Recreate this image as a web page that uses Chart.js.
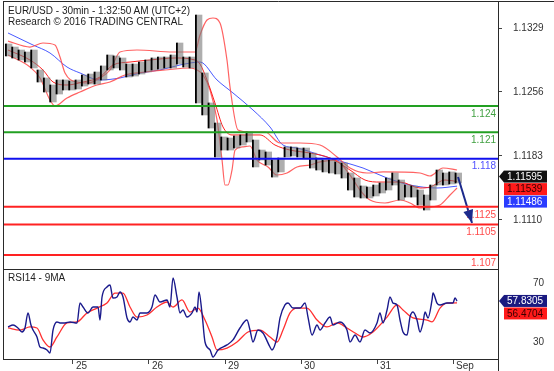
<!DOCTYPE html>
<html>
<head>
<meta charset="utf-8">
<script src="https://cdn.jsdelivr.net/npm/chart.js@4.4.1/dist/chart.umd.min.js"></script>
<style>
  body { margin: 0; background: #fff; overflow: hidden; }
  #wrap { position: relative; width: 554px; height: 371px; overflow: hidden; }
  canvas { position: absolute; left: 0; }
  .label { position: absolute; font: 10px "Liberation Sans", Arial, sans-serif; color: #222; white-space: nowrap; }
</style>
</head>
<body>
<div id="wrap">
  <canvas id="price-chart" width="554" height="270" style="top:0;width:554px;height:270px"></canvas>
  <canvas id="rsi-chart" width="554" height="110" style="top:269px;width:554px;height:110px"></canvas>
  <div class="label" style="left:8px;top:5px">EUR/USD - 30min - 1:32:50 AM (UTC+2)</div>
  <div class="label" style="left:8px;top:16px">Research © 2016 TRADING CENTRAL</div>
  <div class="label" style="left:8px;top:272px">RSI14 - 9MA</div>
</div>
<script>
// x values are in trading days (1 = Aug 25 ... 6 = Sep 1)
const dayTicks = [1, 2, 3, 4, 5, 6]
const dayLabels = ['25', '26', '29', '30', '31', 'Sep']

// 2-hour candles (high / low), first one at day 0.125
const candleStart = 0.125
const candleStep = 1 / 12
const candleHigh = [1.13108, 1.13073, 1.13039, 1.13016, 1.13039, 1.12811, 1.1272, 1.1264, 1.12697, 1.12697,
  1.12685, 1.12697, 1.12754, 1.12765, 1.12788, 1.12857, 1.12982, 1.12971, 1.12948, 1.12879,
  1.12879, 1.12902, 1.12925, 1.12948, 1.12959, 1.12959, 1.12982, 1.13119, 1.12959, 1.12959,
  1.13438, 1.12777, 1.12435, 1.12206, 1.12047, 1.12035, 1.12058, 1.1207, 1.12104, 1.12012,
  1.11898, 1.11876, 1.11784, 1.11807, 1.11933, 1.11933, 1.11921, 1.11921, 1.11864, 1.11807,
  1.11784, 1.11784, 1.11762, 1.1175, 1.11636, 1.11579, 1.11488, 1.11476, 1.11499, 1.11522,
  1.11579, 1.11636, 1.11556, 1.11499, 1.11488, 1.11442, 1.11385, 1.11499, 1.1167, 1.11636,
  1.11648, 1.11636]
const candleLow = [1.12971, 1.12948, 1.12925, 1.12902, 1.12834, 1.12674, 1.1256, 1.12446, 1.12537, 1.12583,
  1.12583, 1.12594, 1.12628, 1.12651, 1.12651, 1.12697, 1.12811, 1.12834, 1.12811, 1.12731,
  1.12742, 1.12765, 1.12788, 1.12811, 1.12822, 1.12834, 1.12834, 1.12879, 1.12845, 1.12834,
  1.12435, 1.12298, 1.12149, 1.11819, 1.11898, 1.11898, 1.11921, 1.11955, 1.1199, 1.11705,
  1.11784, 1.11727, 1.1159, 1.11648, 1.11819, 1.1183, 1.11819, 1.11807, 1.11693, 1.1167,
  1.11648, 1.11636, 1.11625, 1.11579, 1.11442, 1.11362, 1.11351, 1.11351, 1.11374, 1.11408,
  1.11442, 1.11499, 1.11328, 1.11362, 1.11362, 1.11271, 1.11214, 1.11328, 1.11499, 1.11499,
  1.11511, 1.11522]

// Bollinger bands and long moving average, [day, price]
const upperBand = [[0.145, 1.1314], [0.434, 1.13073], [0.605, 1.13119], [0.763, 1.13096], [0.829, 1.12959],
  [0.895, 1.12777], [1.053, 1.12674], [1.197, 1.12663], [1.355, 1.1272], [1.487, 1.12811], [1.618, 1.13016],
  [1.842, 1.13039], [2.316, 1.13016], [2.605, 1.13016], [2.671, 1.1321], [2.763, 1.13381], [2.842, 1.13404],
  [2.934, 1.13347], [3.026, 1.12925], [3.066, 1.12617], [3.171, 1.12127], [3.329, 1.12104], [3.526, 1.12104],
  [3.724, 1.11978], [3.987, 1.11978], [4.25, 1.11955], [4.474, 1.11819], [4.645, 1.11693], [4.868, 1.11636],
  [5.079, 1.11648], [5.566, 1.11636], [5.697, 1.11602], [5.868, 1.11693], [6.053, 1.1167]]
const middleBand = [[0.145, 1.13039], [0.434, 1.12925], [0.605, 1.12811], [0.737, 1.12674], [0.921, 1.1264],
  [1.132, 1.12674], [1.355, 1.12731], [1.526, 1.12868], [1.75, 1.12902], [2.013, 1.12925], [2.342, 1.12948],
  [2.605, 1.12925], [2.671, 1.12879], [2.763, 1.12697], [2.868, 1.12435], [2.974, 1.12161], [3.092, 1.1207],
  [3.263, 1.1207], [3.461, 1.1207], [3.658, 1.11955], [3.855, 1.11898], [4.118, 1.11864], [4.382, 1.11807],
  [4.645, 1.1167], [4.842, 1.11556], [5.039, 1.11533], [5.303, 1.11533], [5.566, 1.11465], [5.697, 1.11476],
  [5.895, 1.11556], [6.053, 1.11539]]
const lowerBand = [[0.145, 1.12982], [0.434, 1.12845], [0.566, 1.1272], [0.697, 1.12469], [0.763, 1.124],
  [0.921, 1.12492], [1.092, 1.1256], [1.316, 1.1264], [1.487, 1.12674], [1.684, 1.12754], [1.947, 1.12788],
  [2.211, 1.12811], [2.539, 1.12834], [2.632, 1.12811], [2.711, 1.12754], [2.803, 1.12583], [2.895, 1.12241],
  [2.961, 1.11784], [3.0, 1.11499], [3.039, 1.11499], [3.092, 1.1167], [3.132, 1.11898], [3.224, 1.11933],
  [3.329, 1.11944], [3.421, 1.11784], [3.566, 1.11705], [3.684, 1.11613], [3.816, 1.11636], [3.947, 1.11705],
  [4.118, 1.11727], [4.25, 1.11762], [4.447, 1.11784], [4.645, 1.11613], [4.776, 1.11442], [4.908, 1.11328],
  [5.105, 1.11294], [5.303, 1.11328], [5.434, 1.11294], [5.566, 1.11237], [5.697, 1.11248], [5.829, 1.11271],
  [5.961, 1.11385], [6.053, 1.11465]]
const longMA = [[0.145, 1.13233], [0.474, 1.13096], [0.697, 1.13005], [0.921, 1.12845], [1.092, 1.12777],
  [1.355, 1.12697], [1.618, 1.1272], [1.882, 1.12777], [2.145, 1.12811], [2.408, 1.12868], [2.671, 1.12902],
  [2.895, 1.12697], [3.105, 1.12549], [3.368, 1.12355], [3.592, 1.12161], [3.763, 1.11955], [3.947, 1.11921],
  [4.25, 1.11841], [4.553, 1.11762], [4.816, 1.11693], [5.132, 1.11579], [5.434, 1.11499], [5.789, 1.11465],
  [6.053, 1.11486]]

// support / resistance levels
const levels = [1.124, 1.121, 1.118, 1.1125, 1.1105, 1.107]
const levelLabels = ['1.124', '1.121', '1.118', '1.1125', '1.1105', '1.107']
const levelColors = ['#22a022', '#22a022', '#1010ee', '#ff2222', '#ff2222', '#ff2222']
const levelTextColors = ['#3f9f3f', '#3f9f3f', '#5050ff', '#ff4a4a', '#ff4a4a', '#ff4a4a']

// target arrow
const arrowPath = [[6.066, 1.1159], [6.25, 1.11066]]

const priceTicks = [1.1110, 1.1183, 1.1256, 1.1329]
const priceTags = [['1.11595', 1.11595, '#111', '#fff'], ['1.11539', 1.11539, '#ff1a1a', '#3a0000'], ['1.11486', 1.11486, '#2a3cff', '#fff']]

// RSI 14 and its 9 period MA, [day, value]
const rsi = [[0.145, 40.2], [0.211, 41.5], [0.276, 39.5], [0.329, 36.8], [0.368, 39.5], [0.408, 49.7], [0.447, 41.5],
  [0.474, 38.1], [0.526, 33.4], [0.566, 26.6], [0.605, 25.9], [0.658, 24.6], [0.697, 22.5], [0.737, 38.1],
  [0.789, 43.6], [0.829, 42.9], [0.895, 42.9], [0.961, 43.6], [1.053, 42.9], [1.092, 56.4], [1.132, 53.7],
  [1.197, 49.7], [1.263, 53.7], [1.329, 53.7], [1.355, 44.9], [1.382, 60.5], [1.447, 67.3], [1.487, 68.6],
  [1.526, 59.8], [1.579, 60.5], [1.618, 63.9], [1.658, 60.5], [1.711, 46.3], [1.75, 43.6], [1.789, 46.9],
  [1.842, 44.9], [1.882, 49.7], [1.974, 49.7], [2.039, 53.7], [2.079, 61.9], [2.145, 57.1], [2.237, 58.5],
  [2.276, 53.7], [2.316, 73.4], [2.368, 60.5], [2.408, 49.7], [2.447, 51.7], [2.5, 46.9], [2.566, 49.7],
  [2.605, 53.7], [2.632, 50.3], [2.658, 63.9], [2.697, 49.7], [2.737, 30.0], [2.803, 24.6], [2.842, 19.8],
  [2.908, 24.6], [3.026, 28.0], [3.105, 31.4], [3.197, 39.5], [3.289, 44.9], [3.329, 38.1], [3.368, 30.0],
  [3.434, 38.1], [3.5, 36.1], [3.592, 26.6], [3.618, 24.6], [3.684, 33.4], [3.724, 46.3], [3.789, 55.1],
  [3.829, 56.4], [3.895, 53.0], [3.987, 53.0], [4.053, 56.4], [4.092, 46.9], [4.145, 34.7], [4.211, 41.5],
  [4.25, 38.1], [4.316, 42.9], [4.382, 46.9], [4.421, 41.5], [4.513, 43.6], [4.605, 38.1], [4.645, 30.0],
  [4.711, 34.7], [4.776, 30.0], [4.842, 38.1], [4.908, 36.1], [5.0, 42.9], [5.039, 49.7], [5.079, 42.9],
  [5.132, 51.7], [5.171, 60.5], [5.211, 56.4], [5.263, 55.1], [5.303, 44.9], [5.342, 36.8], [5.395, 34.7],
  [5.434, 46.9], [5.474, 50.3], [5.526, 44.9], [5.566, 36.8], [5.605, 42.9], [5.632, 50.3], [5.671, 46.3],
  [5.724, 58.5], [5.737, 63.2], [5.789, 56.4], [5.829, 55.1], [5.921, 56.4], [6.0, 56.4], [6.026, 59.8],
  [6.053, 57.8]]
const rsiMA = [[0.145, 39.5], [0.303, 38.1], [0.434, 40.2], [0.526, 39.5], [0.605, 31.4], [0.697, 26.6],
  [0.789, 33.4], [0.921, 42.9], [1.053, 43.6], [1.184, 49.7], [1.316, 53.0], [1.447, 56.4], [1.553, 63.2],
  [1.658, 63.2], [1.75, 53.7], [1.842, 46.9], [1.974, 48.3], [2.105, 53.7], [2.237, 57.1], [2.316, 53.7],
  [2.434, 58.5], [2.539, 50.3], [2.645, 53.0], [2.737, 44.9], [2.829, 33.4], [2.895, 24.6], [3.026, 25.9],
  [3.158, 30.0], [3.303, 36.8], [3.461, 38.1], [3.592, 33.4], [3.684, 30.0], [3.763, 38.1], [3.855, 49.7],
  [3.947, 53.0], [4.079, 53.0], [4.211, 44.9], [4.342, 40.2], [4.474, 42.9], [4.605, 39.5], [4.711, 36.1],
  [4.816, 33.4], [4.947, 36.8], [5.132, 46.9], [5.263, 55.1], [5.342, 51.7], [5.474, 46.3], [5.658, 44.9],
  [5.724, 43.6], [5.829, 53.0], [5.921, 56.4], [6.053, 56.5]]
const rsiTicks = [30, 70]
const rsiTags = [['57.8305', 57.8305, '#1a1a80', '#fff'], ['56.4704', 56.4704, '#ff1a1a', '#3a0000']]

const xMin = 0.079
const xMax = 6.592
const font = { family: '"Liberation Sans", Arial, sans-serif', size: 10 }

function toPoints(pairs) {
  return pairs.map(p => ({x: p[0], y: p[1]}))
}

function lineSet(pairs, color, width) {
  return {
    type: 'line', data: toPoints(pairs), borderColor: color, borderWidth: width,
    pointRadius: 0, cubicInterpolationMode: 'monotone', fill: false
  }
}

// scales add room for their first/last labels; the panels here are drawn edge to edge
function noPadding(s) {
  s.paddingTop = 0
  s.paddingBottom = 0
  s.paddingLeft = 0
  s.paddingRight = 0
}

// draw the little value boxes at the right of a panel
function drawTags(ctx, chart, tags) {
  let y = chart.scales.y.getPixelForValue(tags[0][1])
  ctx.save()
  ctx.font = '10px "Liberation Sans", Arial, sans-serif'
  ctx.textBaseline = 'middle'
  ctx.textAlign = 'left'
  tags.forEach(function(tag, i) {
    ctx.fillStyle = tag[2]
    ctx.fillRect(504, y - 6, 43, 12)
    if (i === 0) {
      ctx.beginPath()
      ctx.moveTo(499, y)
      ctx.lineTo(504, y - 6)
      ctx.lineTo(504, y + 6)
      ctx.closePath()
      ctx.fill()
    }
    ctx.fillStyle = tag[3]
    ctx.fillText(tag[0], 507, y + 0.5)
    y += 12.5
  })
  ctx.restore()
}

const pricePanel = {
  id: 'pricePanel',
  afterDraw(chart) {
    const ctx = chart.ctx
    const xs = chart.scales.x
    const ys = chart.scales.y
    ctx.save()
    // level labels
    ctx.font = '10px "Liberation Sans", Arial, sans-serif'
    ctx.textAlign = 'right'
    ctx.textBaseline = 'top'
    levels.forEach(function(v, i) {
      ctx.fillStyle = levelTextColors[i]
      ctx.fillText(levelLabels[i], 496, ys.getPixelForValue(v) + 3)
    })
    // arrow head
    const sx = xs.getPixelForValue(arrowPath[0][0]), sy = ys.getPixelForValue(arrowPath[0][1])
    const ex = xs.getPixelForValue(arrowPath[1][0]), ey = ys.getPixelForValue(arrowPath[1][1])
    const a = Math.atan2(ey - sy, ex - sx)
    ctx.fillStyle = '#1c2a8c'
    ctx.beginPath()
    ctx.moveTo(ex, ey)
    ctx.lineTo(ex - 13 * Math.cos(a) + 5 * Math.sin(a), ey - 13 * Math.sin(a) - 5 * Math.cos(a))
    ctx.lineTo(ex - 13 * Math.cos(a) - 5 * Math.sin(a), ey - 13 * Math.sin(a) + 5 * Math.cos(a))
    ctx.closePath()
    ctx.fill()
    // frame
    ctx.strokeStyle = '#2a2a2a'
    ctx.lineWidth = 1
    ctx.beginPath()
    ctx.moveTo(3.5, 1.5); ctx.lineTo(554, 1.5)
    ctx.moveTo(3.5, 1); ctx.lineTo(3.5, 270)
    ctx.moveTo(498.5, 1); ctx.lineTo(498.5, 270)
    ctx.moveTo(3, 269.5); ctx.lineTo(498.5, 269.5)
    ctx.stroke()
    ctx.restore()
    drawTags(ctx, chart, priceTags)
  }
}

const rsiPanel = {
  id: 'rsiPanel',
  afterDraw(chart) {
    const ctx = chart.ctx
    ctx.save()
    ctx.strokeStyle = '#2a2a2a'
    ctx.lineWidth = 1
    ctx.beginPath()
    ctx.moveTo(3.5, 0); ctx.lineTo(3.5, 91)
    ctx.moveTo(498.5, 0); ctx.lineTo(498.5, 110)
    ctx.moveTo(3, 90.5); ctx.lineTo(498.5, 90.5)
    ctx.stroke()
    ctx.restore()
    drawTags(ctx, chart, rsiTags)
  }
}

const candleData = candleHigh.map((h, i) => ({x: candleStart + i * candleStep, y: [candleLow[i], h]}))

const datasets = []
levels.forEach(function(v, i) {
  datasets.push({type: 'line', data: [{x: xMin, y: v}, {x: xMax, y: v}], borderColor: levelColors[i],
    borderWidth: 2, pointRadius: 0})
})
datasets.push({type: 'line', data: toPoints(arrowPath), borderColor: '#1c2a8c', borderWidth: 2, pointRadius: 0})
datasets.push({type: 'bar', data: candleData, backgroundColor: '#000', barThickness: 1.2})
datasets.push({type: 'bar', data: candleData, backgroundColor: 'rgba(120,120,120,0.6)', barThickness: 5.5})
datasets.push(lineSet(middleBand, '#ff2020', 1))
datasets.push(lineSet(upperBand, 'rgba(255,70,70,0.85)', 1.2))
datasets.push(lineSet(lowerBand, 'rgba(255,70,70,0.85)', 1.2))
datasets.push(lineSet(longMA, 'rgba(40,60,255,0.85)', 1))

let priceChart = new Chart(document.querySelector('#price-chart'), {
  type: 'bar',
  data: { datasets: datasets },
  options: {
    responsive: false,
    animation: false,
    layout: { padding: { left: 3, top: 1, bottom: 1, right: 0 } },
    plugins: { legend: { display: false }, tooltip: { enabled: false } },
    scales: {
      x: { type: 'linear', min: xMin, max: xMax, display: false, offset: false },
      y: {
        position: 'right', min: 1.10541, max: 1.13598,
        afterFit(s) { s.width = 56; noPadding(s) },
        afterBuildTicks(s) { s.ticks = priceTicks.map(v => ({value: v})) },
        ticks: { callback: v => v.toFixed(4), font: font, color: '#333', padding: 11 },
        grid: { drawOnChartArea: false, tickLength: 4, color: '#444' },
        border: { display: false }
      }
    }
  },
  plugins: [pricePanel]
})

let rsiChart = new Chart(document.querySelector('#rsi-chart'), {
  type: 'line',
  data: {
    datasets: [
      lineSet(rsi, '#1a1a8c', 1.4),
      lineSet(rsiMA, '#ff3030', 1.3)
    ]
  },
  options: {
    responsive: false,
    animation: false,
    layout: { padding: { left: 3, top: 0, bottom: 0, right: 0 } },
    plugins: { legend: { display: false }, tooltip: { enabled: false } },
    scales: {
      x: {
        type: 'linear', min: xMin, max: xMax,
        afterFit(s) { s.height = 20; noPadding(s) },
        afterBuildTicks(s) { s.ticks = dayTicks.map(v => ({value: v})) },
        ticks: { callback: (v, i) => dayLabels[i], font: font, color: '#333', align: 'start', labelOffset: 3, padding: -4, maxRotation: 0 },
        grid: { drawOnChartArea: false, tickLength: 5, color: '#444' },
        border: { display: false }
      },
      y: {
        position: 'right', min: 18.47, max: 79.49,
        afterFit(s) { s.width = 56; noPadding(s) },
        afterBuildTicks(s) { s.ticks = rsiTicks.map(v => ({value: v})) },
        ticks: { callback: v => String(v), font: font, color: '#333', padding: 31 },
        grid: { drawOnChartArea: false, tickLength: 4, color: '#fff' },
        border: { display: false }
      }
    }
  },
  plugins: [rsiPanel]
})
</script>
</body>
</html>
